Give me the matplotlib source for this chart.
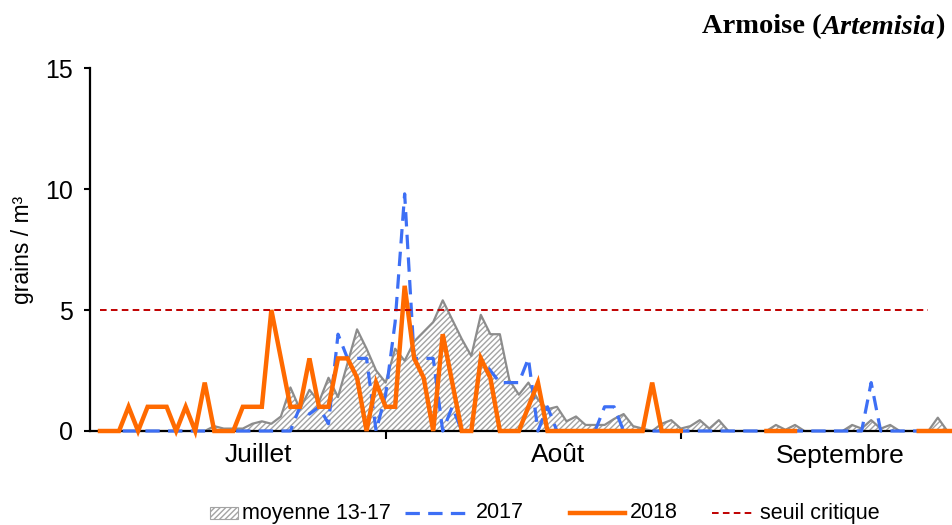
import numpy as np
import matplotlib
matplotlib.use("Agg")
import matplotlib.pyplot as plt
from matplotlib.lines import Line2D
from matplotlib.patches import Rectangle

plt.rcParams["font.family"] = ["Liberation Sans", "DejaVu Sans"]

nan = np.nan

# daily values, index 0 = first day shown (start of July) .. end of September
moyenne = [0, 0, 0, 0, 0, 0, 0, 0, 0, 0, 0, 0, 0.2, 0.1, 0.1,
           0.1, 0.3, 0.4, 0.3, 0.6, 1.8, 0.9, 1.7, 1.2, 2.2, 1.4, 2.8, 4.2, 3.4, 2.5,
           2.0, 3.4, 2.9, 3.7, 4.1, 4.5, 5.4, 4.6, 3.8, 3.1, 4.8, 4.0, 4.0, 2.1, 1.5,
           2.0, 1.3, 0.9, 1.0, 0.4, 0.6, 0.25, 0.25, 0.25, 0.5, 0.7, 0.2, 0.1, 0, 0.3,
           0.45, 0.1, 0.2, 0.45, 0.1, 0.45, 0, 0, 0, 0, 0, 0.25, 0.05, 0.25, 0,
           0, 0, 0, 0, 0.25, 0.1, 0.45, 0.1, 0.25, 0, 0, 0, 0, 0.55, 0, 0]

y2017 = [0, 0, 0, 0, 0, 0, 0, 0, 0, 0, 0, 0, 0, 0, 0,
         0, 0, 0, 0, 0, 0, 1, 0.7, 1, 0.3, 4, 3, 3, 3, 0,
         1.5, 4.5, 9.8, 3, 3, 3, 0, 1, 0, 0, 3, 2.5, 2, 2, 2,
         3, 0, 1, 0, 0, 0, 0, 0, 1, 1, 0, 0, 0, 0, 0,
         0, 0, 0, 0, 0, 0, 0, 0, 0, 0, 0, 0, 0, 0, 0,
         0, 0, 0, 0, 0, 0, 2, 0, 0, 0, 0, 0, 0, 0, 0, 0]

y2018 = [0, 0, 0, 1, 0, 1, 1, 1, 0, 1, 0, 2, 0, 0, 0,
         1, 1, 1, 5, 3, 1, 1, 3, 1, 1, 3, 3, 2.2, 0, 2,
         1, 1, 6, 3, 2.2, 0, 4, 2, 0, 0, 3, 2.2, 0, 0, 0,
         1, 2, 0, 0, 0, 0, 0, 0, 0, 0, 0, 0, 0, 2, 0,
         0, 0, nan, nan, nan, nan, nan, nan, nan, nan, 0, 0, 0, 0, nan,
         nan, nan, nan, nan, nan, nan, nan, nan, nan, nan, nan, 0, 0, 0, 0, 0]

seuil = [5] * 88

month_ticks = [30, 61]
month_labels = ["Juillet", "Août", "Septembre"]
month_label_pos = [16.6, 48.1, 77.7]

days = np.arange(len(moyenne))

W, H = 952, 525
fig = plt.figure(figsize=(W / 100, H / 100), dpi=100)
ax = fig.add_axes([90 / W, (H - 431) / H, (961.6 - 90) / W, (431 - 68) / H])

ax.fill_between(days, 0, moyenne, facecolor="white", edgecolor="#a3a3a3",
                hatch="//////", linewidth=0, zorder=1)
ax.plot(days, moyenne, color="#8c8c8c", lw=1.6, zorder=2, clip_on=False)
ax.plot(np.arange(len(y2017)), y2017, color="#3d6ff5", lw=2.3,
        dashes=(4.5, 2.6), zorder=3, clip_on=False)
ax.plot(np.arange(len(y2018)), y2018, color="#ff6a00", lw=3.2, zorder=4,
        clip_on=False, solid_joinstyle="miter")
ax.plot(np.arange(len(seuil)), seuil, color="#c00000", lw=1.4,
        dashes=(3.4, 2.2), zorder=5, clip_on=False)

ax.set_xlim(-1.05, 90.5)
ax.set_ylim(0, 15)
ax.set_yticks([0, 5, 10, 15])
ax.set_xticks(month_ticks)
ax.set_xticklabels([])
ax.set_xticks(month_label_pos, minor=True)
ax.set_xticklabels(month_labels, minor=True)
ax.tick_params(axis="x", which="minor", length=0, pad=9, labelsize=19)
ax.tick_params(axis="x", which="major", direction="out", length=6, width=1.5)
ax.tick_params(axis="y", direction="out", length=4, width=1.5, labelsize=18, pad=8)
for s in ("top", "right"):
    ax.spines[s].set_visible(False)
for s in ("left", "bottom"):
    ax.spines[s].set_linewidth(1.6)
    ax.spines[s].set_zorder(2.5)
ax.set_ylabel("grains / m³", fontsize=16.5, labelpad=8)

# title, pieced together right-aligned
r = fig.canvas.get_renderer()
ty = 1 - 27 / H
x = 945 / W
for txt, st in ((")", "normal"), ("Artemisia", "italic"), ("Armoise (", "normal")):
    t = fig.text(x, ty, txt, ha="right", va="center", family="Liberation Serif",
                 weight="bold", style=st, fontsize=20.5)
    x = t.get_window_extent(r).x0 / W

# legend row
ly = (H - 513) / H
def px(v):
    return v / W

lfs = 15.5
fig.add_artist(Rectangle((px(210), ly - 6 / H), px(28), 12 / H, facecolor="white",
                         edgecolor="#a3a3a3", hatch="//////", lw=0.8))
fig.text(px(242), ly, "moyenne 13-17", fontsize=lfs, va="center")
fig.add_artist(Line2D([px(405), px(470)], [ly, ly], color="#3d6ff5", lw=2.3,
                      dashes=(4.5, 2.6)))
fig.text(px(476), ly, "2017", fontsize=lfs, va="center")
fig.add_artist(Line2D([px(570), px(625)], [ly, ly], color="#ff6a00", lw=3.2))
fig.text(px(630), ly, "2018", fontsize=lfs, va="center")
fig.add_artist(Line2D([px(712), px(755)], [ly, ly], color="#c00000", lw=1.4,
                      dashes=(3.4, 2.2)))
fig.text(px(760), ly, "seuil critique", fontsize=lfs, va="center")

fig.savefig("out.png", dpi=100)
